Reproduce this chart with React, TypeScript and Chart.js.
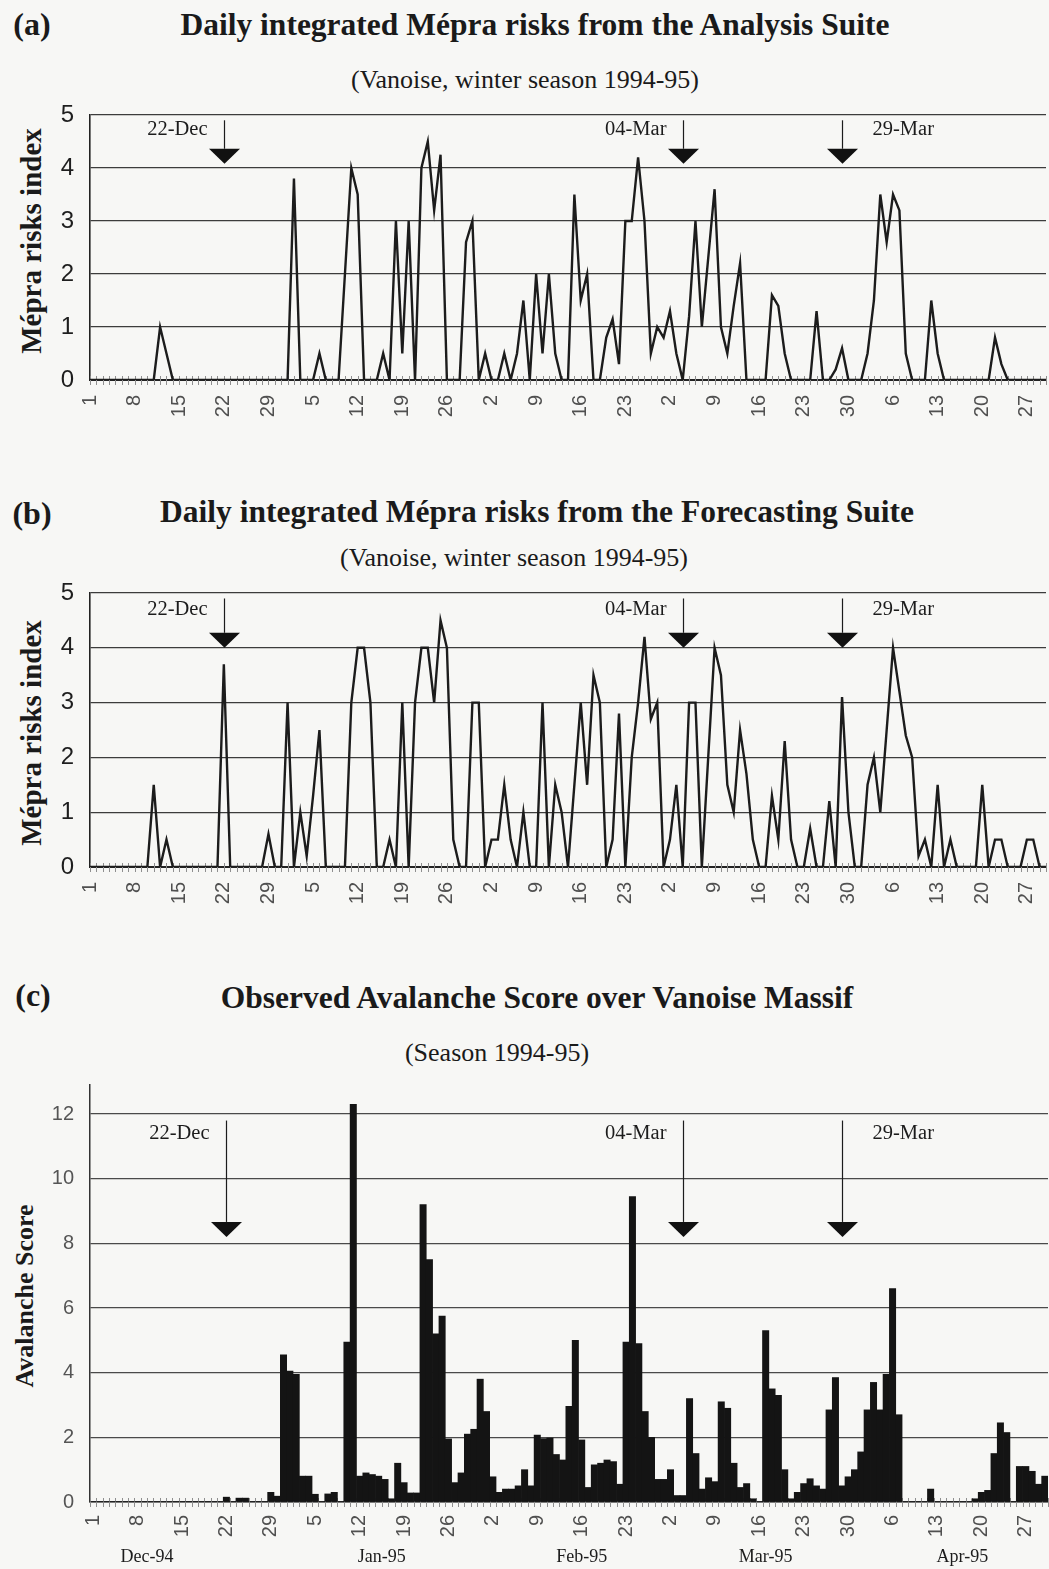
import React, { useEffect, useRef } from 'react';
import { Chart, registerables } from 'chart.js';

Chart.register(...registerables);

// ---------- categories ----------
const MONTH_NAMES = ['Dec-94', 'Jan-95', 'Feb-95', 'Mar-95', 'Apr-95'];
const MONTH_LENGTHS = [31, 31, 28, 31, 30];
const DAY_LABELS: string[] = MONTH_LENGTHS.flatMap((n) => Array.from({ length: n }, (_, k) => String(k + 1)));
const TICK_STEP = 7;
const MONTH_LABEL_INDEX = [8.5, 45.5, 77, 106, 137];

// ---------- annotations ----------
const ARROW_LABELS = ['22-Dec', '04-Mar', '29-Mar'];
const ARROW_DAY_INDEX = [21, 93, 118];
const ARROW_TEXT_SIDE = ['left', 'left', 'right'];

// ---------- series (one value per day, 1 Dec 1994 .. 30 Apr 1995) ----------
const ANALYSIS = [
  0, 0, 0, 0, 0, 0, 0,
  0, 0, 0, 0, 1.0, 0.5, 0,
  0, 0, 0, 0, 0, 0, 0,
  0, 0, 0, 0, 0, 0, 0,
  0, 0, 0, 0, 3.8, 0, 0,
  0, 0.5, 0, 0, 0, 2.0, 4.0,
  3.5, 0, 0, 0, 0.5, 0, 3.0,
  0.5, 3.0, 0, 4.0, 4.5, 3.2, 4.25,
  0, 0, 0, 2.6, 3.0, 0, 0.5,
  0, 0, 0.5, 0, 0.5, 1.5, 0,
  2.0, 0.5, 2.0, 0.5, 0, 0, 3.5,
  1.5, 2.0, 0, 0, 0.8, 1.15, 0.3,
  3.0, 3.0, 4.2, 3.0, 0.5, 1.0, 0.8,
  1.3, 0.5, 0, 1.2, 3.0, 1.0, 2.3,
  3.6, 1.0, 0.5, 1.4, 2.2, 0, 0,
  0, 0, 1.6, 1.4, 0.5, 0, 0,
  0, 0, 1.3, 0, 0, 0.2, 0.6,
  0, 0, 0, 0.5, 1.5, 3.5, 2.6,
  3.5, 3.2, 0.5, 0, 0, 0, 1.5,
  0.5, 0, 0, 0, 0, 0, 0,
  0, 0, 0.8, 0.3, 0, 0, 0,
  0, 0, 0, 0,
];

const FORECAST = [
  0, 0, 0, 0, 0, 0, 0,
  0, 0, 0, 1.5, 0, 0.5, 0,
  0, 0, 0, 0, 0, 0, 0,
  3.7, 0, 0, 0, 0, 0, 0,
  0.6, 0, 0, 3.0, 0, 1.0, 0.2,
  1.3, 2.5, 0, 0, 0, 0, 3.0,
  4.0, 4.0, 3.0, 0, 0, 0.5, 0,
  3.0, 0, 3.0, 4.0, 4.0, 3.0, 4.5,
  4.0, 0.5, 0, 0, 3.0, 3.0, 0,
  0.5, 0.5, 1.5, 0.5, 0, 1.0, 0,
  0, 3.0, 0, 1.5, 1.0, 0, 1.5,
  3.0, 1.5, 3.5, 3.0, 0, 0.5, 2.8,
  0, 2.0, 3.0, 4.2, 2.7, 3.0, 0,
  0.5, 1.5, 0, 3.0, 3.0, 0, 2.0,
  4.0, 3.5, 1.5, 1.0, 2.5, 1.7, 0.5,
  0, 0, 1.3, 0.5, 2.3, 0.5, 0,
  0, 0.7, 0, 0, 1.2, 0, 3.1,
  1.0, 0, 0, 1.5, 2.0, 1.0, 2.5,
  4.0, 3.2, 2.4, 2.0, 0.2, 0.5, 0,
  1.5, 0, 0.5, 0, 0, 0, 0,
  1.5, 0, 0.5, 0.5, 0, 0, 0,
  0.5, 0.5, 0, 0,
];

const AVALANCHE = [
  0, 0, 0, 0, 0, 0, 0,
  0, 0, 0, 0, 0, 0, 0,
  0, 0, 0, 0, 0, 0, 0,
  0.15, 0, 0.12, 0.12, 0, 0, 0,
  0.3, 0.18, 4.55, 4.05, 3.95, 0.8, 0.8,
  0.24, 0, 0.25, 0.3, 0, 4.95, 12.3,
  0.8, 0.9, 0.85, 0.8, 0.7, 0.1, 1.2,
  0.6, 0.28, 0.28, 9.2, 7.5, 5.2, 5.75,
  1.95, 0.6, 0.9, 2.1, 2.25, 3.8, 2.8,
  0.78, 0.3, 0.4, 0.4, 0.5, 1.0, 0.5,
  2.07, 1.96, 1.98, 1.47, 1.3, 2.96, 5.0,
  1.92, 0.45, 1.15, 1.2, 1.3, 1.25, 0.55,
  4.95, 9.45, 4.9, 2.8, 2.0, 0.7, 0.7,
  1.0, 0.2, 0.2, 3.2, 1.5, 0.4, 0.75,
  0.63, 3.1, 2.9, 1.2, 0.45, 0.57, 0.1,
  0, 5.3, 3.5, 3.3, 1.0, 0.1, 0.3,
  0.57, 0.72, 0.5, 0.4, 2.85, 3.85, 0.5,
  0.78, 1.0, 1.55, 2.85, 3.7, 2.85, 3.95,
  6.6, 2.7, 0, 0, 0, 0, 0.4,
  0, 0, 0, 0, 0, 0, 0.1,
  0.3, 0.36, 1.5, 2.45, 2.15, 0, 1.1,
  1.1, 0.95, 0.55, 0.8,
];

// ---------- plugins ----------
const dayTicksPlugin = {
  id: 'dayTicks',
  beforeDatasetsDraw(chart: any, _args: any, opts: any) {
    const xs = chart.scales.x;
    const ys = chart.scales.y;
    const ctx = chart.ctx;
    const y0 = ys.getPixelForValue(0);
    const n = chart.data.labels.length;
    const half = opts.between ? (xs.getPixelForValue(1) - xs.getPixelForValue(0)) / 2 : 0;
    const count = opts.between ? n + 1 : n;
    ctx.save();
    ctx.strokeStyle = '#8f8f8f';
    ctx.lineWidth = 1;
    ctx.beginPath();
    for (let i = 0; i < count; i++) {
      const x = Math.round(xs.getPixelForValue(i) - half) + 0.5;
      ctx.moveTo(x, y0 - 4);
      ctx.lineTo(x, y0 + 5);
    }
    ctx.stroke();
    ctx.restore();
  },
};

const arrowsPlugin = {
  id: 'arrows',
  afterDatasetsDraw(chart: any, _args: any, opts: any) {
    const xs = chart.scales.x;
    const ys = chart.scales.y;
    const ctx = chart.ctx;
    const yTop = ys.getPixelForValue(opts.top);
    const yTip = ys.getPixelForValue(opts.tip);
    const yText = ys.getPixelForValue(opts.text);
    const headH = 15;
    const headW = 31;
    ctx.save();
    ARROW_DAY_INDEX.forEach((d, k) => {
      const x = Math.round(xs.getPixelForValue(d)) + 0.5;
      ctx.strokeStyle = '#1c1c1c';
      ctx.lineWidth = 1.2;
      ctx.beginPath();
      ctx.moveTo(x, yTop);
      ctx.lineTo(x, yTip - headH);
      ctx.stroke();
      ctx.fillStyle = '#111';
      ctx.beginPath();
      ctx.moveTo(x - headW / 2, yTip - headH);
      ctx.lineTo(x + headW / 2, yTip - headH);
      ctx.lineTo(x, yTip);
      ctx.closePath();
      ctx.fill();
      ctx.font = '20.5px "Liberation Serif"';
      ctx.fillStyle = '#1c1c1c';
      ctx.textBaseline = 'middle';
      if (ARROW_TEXT_SIDE[k] === 'left') {
        ctx.textAlign = 'right';
        ctx.fillText(ARROW_LABELS[k], x - 17, yText);
      } else {
        ctx.textAlign = 'left';
        ctx.fillText(ARROW_LABELS[k], x + 30, yText);
      }
    });
    ctx.restore();
  },
};

const monthLabelsPlugin = {
  id: 'monthLabels',
  afterDraw(chart: any, _args: any, opts: any) {
    const xs = chart.scales.x;
    const ctx = chart.ctx;
    ctx.save();
    ctx.font = '18px "Liberation Serif"';
    ctx.fillStyle = '#1c1c1c';
    ctx.textAlign = 'center';
    ctx.textBaseline = 'middle';
    MONTH_NAMES.forEach((m, k) => {
      ctx.fillText(m, xs.getPixelForValue(MONTH_LABEL_INDEX[k]), chart.chartArea.bottom + opts.offset);
    });
    ctx.restore();
  },
};

// ---------- configs ----------
const xTickFont = { family: 'Liberation Sans', size: 20 };
const xTickCallback = (_v: any, i: number) => (i % TICK_STEP === 0 ? DAY_LABELS[i] : '');

function fixSize(prop: 'width' | 'height', size: number) {
  return (s: any) => {
    s[prop] = size;
    s.paddingLeft = 0;
    s.paddingRight = 0;
    s.paddingTop = 0;
    s.paddingBottom = 0;
  };
}

function lineConfig(values: number[], arrowCfg: any) {
  return {
    type: 'line',
    data: {
      labels: DAY_LABELS,
      datasets: [
        {
          data: values,
          borderColor: '#1c1c1c',
          borderWidth: 2.4,
          pointRadius: 0,
          tension: 0,
          fill: false,
          borderJoinStyle: 'miter',
        },
      ],
    },
    options: {
      animation: false,
      responsive: false,
      events: [],
      layout: { padding: { top: 15, right: 3, left: 0, bottom: 0 } },
      plugins: {
        legend: { display: false },
        tooltip: { enabled: false },
        dayTicks: { between: false },
        arrows: arrowCfg,
      },
      scales: {
        x: {
          offset: false,
          grid: { display: false, drawTicks: false },
          border: { display: true, color: '#222', width: 2 },
          ticks: {
            autoSkip: false,
            minRotation: 90,
            maxRotation: 90,
            padding: 15,
            color: '#505050',
            font: xTickFont,
            callback: xTickCallback,
          },
          afterFit: fixSize('height', 70),
        },
        y: {
          min: 0,
          max: 5,
          ticks: { stepSize: 1, padding: 16, color: '#1e1e1e', font: { family: 'Liberation Sans', size: 24 } },
          grid: { color: '#3c3c3c', lineWidth: 1.3, drawTicks: false },
          border: { display: true, color: '#222', width: 1.6 },
          afterFit: fixSize('width', 90),
        },
      },
    },
    plugins: [dayTicksPlugin, arrowsPlugin],
  };
}

function barConfig() {
  return {
    type: 'bar',
    data: {
      labels: DAY_LABELS,
      datasets: [
        {
          data: AVALANCHE,
          backgroundColor: '#141414',
          borderWidth: 0,
          barPercentage: 1,
          categoryPercentage: 1,
        },
      ],
    },
    options: {
      animation: false,
      responsive: false,
      events: [],
      layout: { padding: { top: 15, right: 1, left: 0, bottom: 0 } },
      plugins: {
        legend: { display: false },
        tooltip: { enabled: false },
        dayTicks: { between: true },
        arrows: { top: 11.8, tip: 8.2, text: 11.4 },
        monthLabels: { offset: 55 },
      },
      scales: {
        x: {
          offset: true,
          grid: { display: false, drawTicks: false },
          border: { display: true, color: '#2a2a2a', width: 1.6 },
          ticks: {
            autoSkip: false,
            minRotation: 90,
            maxRotation: 90,
            padding: 13,
            color: '#505050',
            font: xTickFont,
            callback: xTickCallback,
          },
          afterFit: fixSize('height', 67),
        },
        y: {
          min: 0,
          max: 12.9,
          ticks: {
            stepSize: 2,
            includeBounds: false,
            padding: 16,
            color: '#555',
            font: { family: 'Liberation Sans', size: 20 },
          },
          grid: { color: '#4a4a4a', lineWidth: 1.2, drawTicks: false },
          border: { display: true, color: '#333', width: 1.5 },
          afterFit: fixSize('width', 90),
        },
      },
    },
    plugins: [dayTicksPlugin, arrowsPlugin, monthLabelsPlugin],
  };
}

// ---------- components ----------
function ChartCanvas({ top, height, make }: { top: number; height: number; make: () => any }) {
  const ref = useRef<HTMLCanvasElement>(null);
  useEffect(() => {
    const chart = new Chart(ref.current as HTMLCanvasElement, make());
    return () => chart.destroy();
  }, []);
  return (
    <canvas
      ref={ref}
      width={1049}
      height={height}
      style={{ position: 'absolute', left: 0, top, width: 1049, height }}
    />
  );
}

function Txt({
  x,
  y,
  size,
  bold,
  rotate,
  children,
}: {
  x: number;
  y: number;
  size: number;
  bold?: boolean;
  rotate?: boolean;
  children: any;
}) {
  return (
    <div
      style={{
        position: 'absolute',
        left: x,
        top: y,
        transform: `translate(-50%, -50%)${rotate ? ' rotate(-90deg)' : ''}`,
        fontFamily: '"Liberation Serif", "Times New Roman", serif',
        fontWeight: bold ? 'bold' : 'normal',
        fontSize: size,
        lineHeight: 1,
        whiteSpace: 'nowrap',
        color: '#1a1a1a',
      }}
    >
      {children}
    </div>
  );
}

export default function App() {
  return (
    <div
      style={{
        position: 'absolute',
        left: 0,
        top: 0,
        width: 1049,
        height: 1569,
        background: '#f7f7f5',
        overflow: 'hidden',
      }}
    >
      {/* Panel (a) */}
      <Txt x={32} y={24} size={32} bold>(a)</Txt>
      <Txt x={535} y={25} size={31.5} bold>Daily integrated Mépra risks from the Analysis Suite</Txt>
      <Txt x={525} y={80} size={26}>(Vanoise, winter season 1994-95)</Txt>
      <Txt x={31} y={241} size={29} bold rotate>Mépra risks index</Txt>
      <ChartCanvas top={100} height={350} make={() => lineConfig(ANALYSIS, { top: 4.9, tip: 4.08, text: 4.72 })} />

      {/* Panel (b) */}
      <Txt x={32} y={513} size={32} bold>(b)</Txt>
      <Txt x={537} y={512} size={31.5} bold>Daily integrated Mépra risks from the Forecasting Suite</Txt>
      <Txt x={514} y={558} size={26}>(Vanoise, winter season 1994-95)</Txt>
      <Txt x={31} y={733} size={29} bold rotate>Mépra risks index</Txt>
      <ChartCanvas top={578} height={359} make={() => lineConfig(FORECAST, { top: 4.9, tip: 4.0, text: 4.7 })} />

      {/* Panel (c) */}
      <Txt x={33} y={995} size={32} bold>(c)</Txt>
      <Txt x={537} y={998} size={31.5} bold>Observed Avalanche Score over Vanoise Massif</Txt>
      <Txt x={497} y={1053} size={26}>(Season 1994-95)</Txt>
      <Txt x={25} y={1296} size={26} bold rotate>Avalanche Score</Txt>
      <ChartCanvas top={1070} height={499} make={barConfig} />
    </div>
  );
}
